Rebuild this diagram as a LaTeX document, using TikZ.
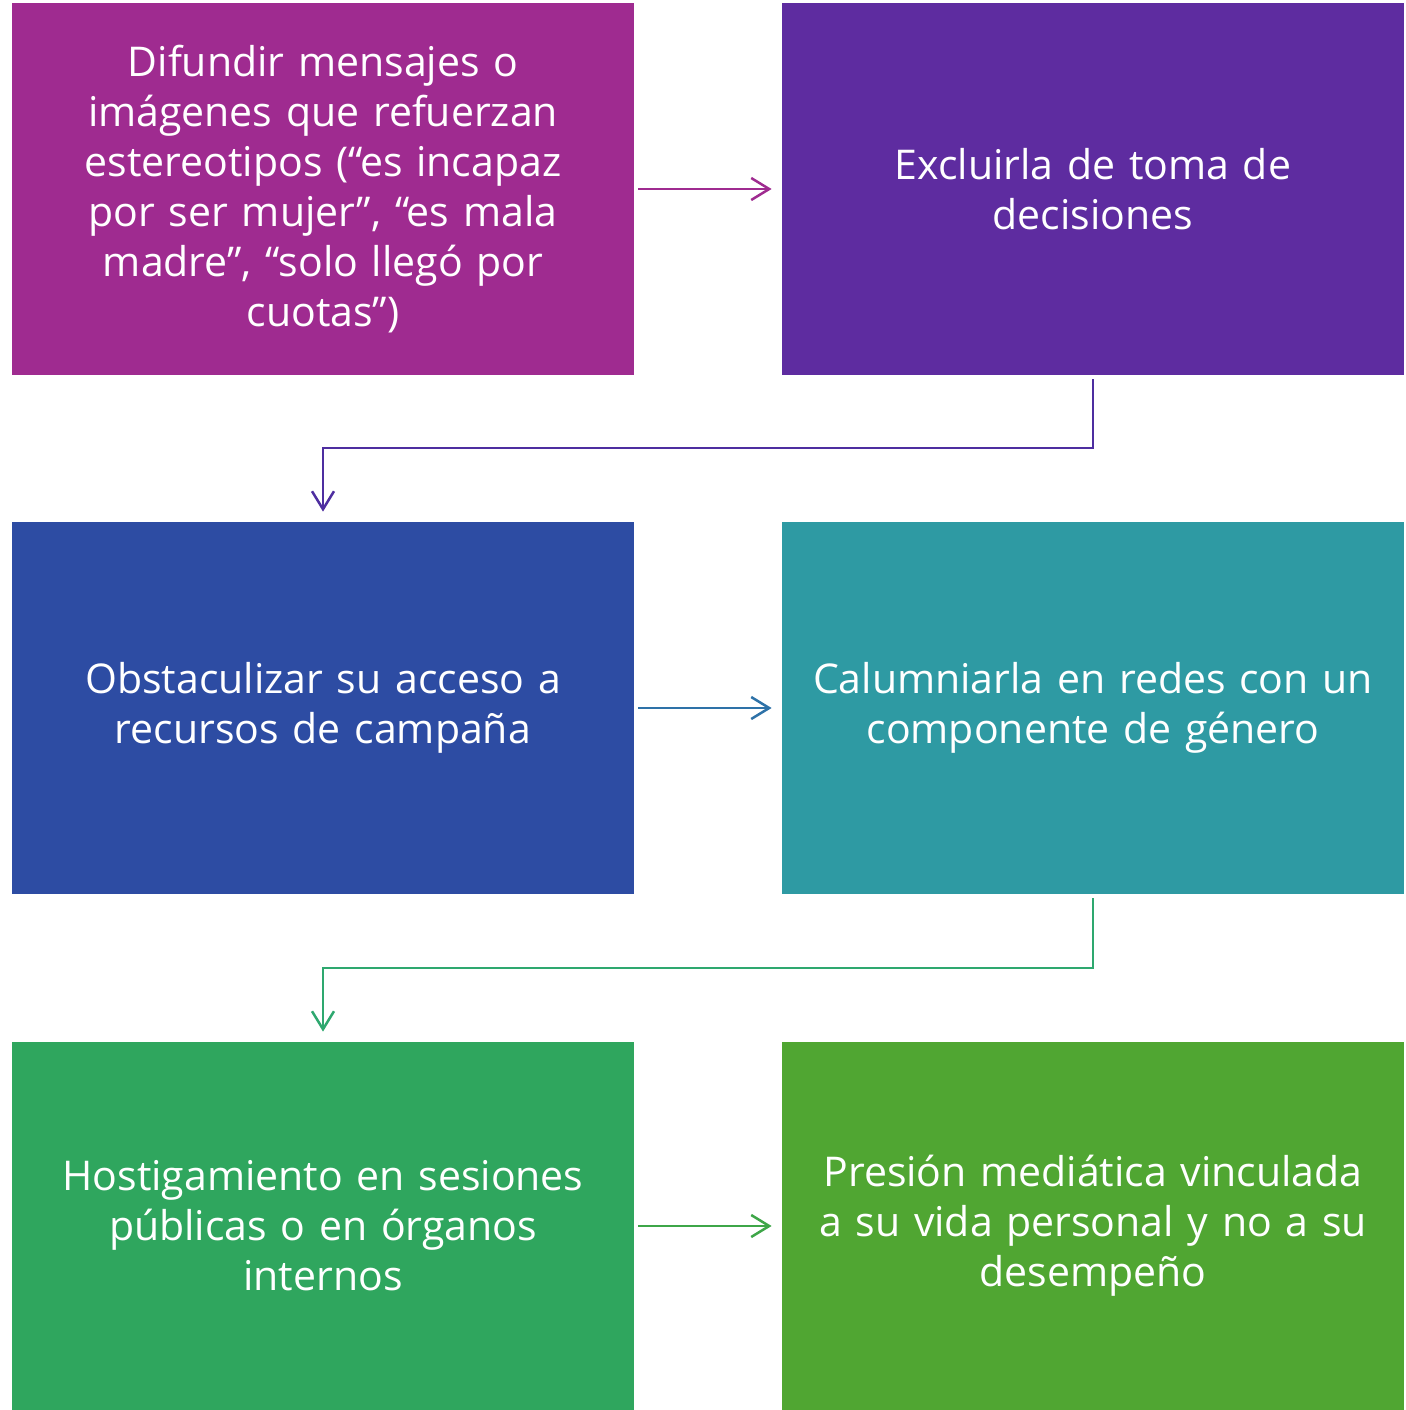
\documentclass[tikz,border=0pt]{standalone}
\usepackage{fontspec}
\setmainfont{Open Sans}
\usetikzlibrary{arrows.meta}

\definecolor{boxA}{HTML}{9F2B90}
\definecolor{boxB}{HTML}{5E2CA0}
\definecolor{boxC}{HTML}{2D4CA3}
\definecolor{boxD}{HTML}{2E9AA3}
\definecolor{boxE}{HTML}{2FA65E}
\definecolor{boxF}{HTML}{50A632}
\definecolor{lineB}{HTML}{4E2EA0}
\definecolor{lineC}{HTML}{2E72A8}
\definecolor{lineD}{HTML}{2EA86F}
\definecolor{lineE}{HTML}{3EA648}

\begin{document}
\begin{tikzpicture}[
  x=0.5pt, y=-0.5pt,
  stepbox/.style={
    fill=#1, text=white, inner sep=0pt,
    minimum width=311pt, minimum height=186pt,
    text width=305pt, align=center,
    font=\fontsize{20.5}{25}\selectfont
  },
  flow/.style={
    draw=#1, line width=1.25pt,
    -{Straight Barb[length=9pt,width=11pt,line width=1.25pt]}
  }
  ]
  \useasboundingbox (0,0) rectangle (1406,1410);

  % boxes
  \node[stepbox=boxA] (difundir) at (323,189)
    {Difundir mensajes o\\imágenes que refuerzan\\estereotipos (“es incapaz\\por ser mujer”, “es mala\\madre”, “solo llegó por\\cuotas”)};
  \node[stepbox=boxB] (excluir) at (1093,189)
    {Excluirla de toma de\\decisiones};
  \node[stepbox=boxC] (obstaculizar) at (323,708)
    {Obstaculizar su acceso a\\recursos de campaña};
  \node[stepbox=boxD] (calumniar) at (1093,708)
    {Calumniarla en redes con un\\componente de género};
  \node[stepbox=boxE, minimum height=184pt] (hostigar) at (323,1226)
    {Hostigamiento en sesiones\\públicas o en órganos\\internos};
  \node[stepbox=boxF, minimum height=184pt] (presion) at (1093,1226)
    {Presión mediática vinculada\\a su vida personal y no a su\\desempeño};

  % connectors
  \draw[flow=boxA] ([xshift=2pt]difundir.east) -- ([xshift=-5pt]excluir.west);
  \draw[flow=lineB]
    ([yshift=-2pt]excluir.south) |- (323,448) -- ([yshift=5pt]obstaculizar.north);
  \draw[flow=lineC]
    ([xshift=2pt]obstaculizar.east) -- ([xshift=-5pt]calumniar.west);
  \draw[flow=lineD]
    ([yshift=-2pt]calumniar.south) |- (323,968) -- ([yshift=5pt]hostigar.north);
  \draw[flow=lineE]
    ([xshift=2pt]hostigar.east) -- ([xshift=-5pt]presion.west);
\end{tikzpicture}
\end{document}
